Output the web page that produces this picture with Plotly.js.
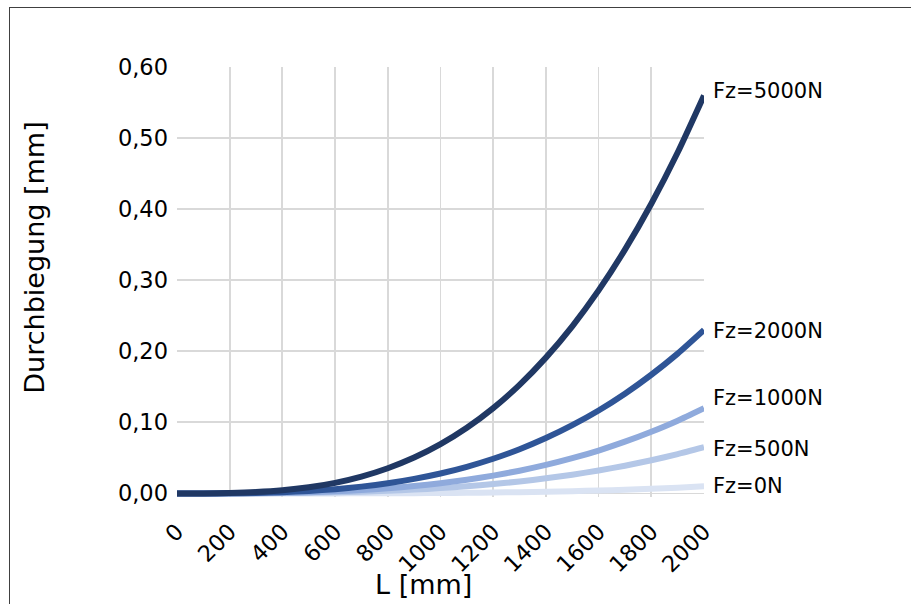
<!DOCTYPE html>
<html>
<head>
<meta charset="utf-8">
<script src="https://cdn.plot.ly/plotly-3.0.1.min.js"></script>
<style>
  html, body { margin: 0; padding: 0; background: #fff; }
  #wrap { position: relative; width: 911px; height: 604px; overflow: hidden; }
  #chart { width: 911px; height: 604px; }
  #frame { position: absolute; left: 9px; top: 7px; width: 1000px; height: 1000px;
           border-left: 1px solid #404040; border-top: 1px solid #404040; pointer-events: none; }
</style>
</head>
<body>
<div id="wrap">
  <div id="chart"></div>
  <div id="frame"></div>
</div>
<script>
// L [mm]
const lengths = [0,100,200,300,400,500,600,700,800,900,1000,1100,1200,1300,1400,1500,1600,1700,1800,1900,2000];
// Durchbiegung [mm]
const fz0    = [0,0,0,0.0001,0.0001,0.0001,0.0001,0.0002,0.0004,0.0004,0.0006,0.0009,0.0013,0.0018,0.0024,0.0032,0.0041,0.0052,0.0066,0.0081,0.010];
const fz500  = [0,0,0.0001,0.0002,0.0005,0.0009,0.0016,0.0025,0.0038,0.0054,0.0075,0.0101,0.0132,0.0169,0.0213,0.0264,0.0323,0.0390,0.0467,0.0553,0.065];
const fz1000 = [0,0,0.0001,0.0004,0.0009,0.0018,0.0031,0.0049,0.0073,0.0104,0.0144,0.0192,0.0251,0.0320,0.0401,0.0496,0.0604,0.0728,0.0868,0.1024,0.120];
const fz2000 = [0,0,0.0002,0.0007,0.0018,0.0035,0.0060,0.0096,0.0143,0.0205,0.0281,0.0375,0.0488,0.0622,0.0779,0.0960,0.1167,0.1403,0.1670,0.1967,0.230];
const fz5000 = [0,0.0001,0.0006,0.0019,0.0044,0.0086,0.0149,0.0237,0.0355,0.0505,0.0694,0.0924,0.1201,0.1528,0.1911,0.2352,0.2857,0.3430,0.4076,0.4797,0.560];
const seriesNames = ["Fz=0N","Fz=500N","Fz=1000N","Fz=2000N","Fz=5000N"];
const labelY = [0.010, 0.0625, 0.134, 0.229, 0.566];
const xTicks = [0,200,400,600,800,1000,1200,1400,1600,1800,2000];
const yTicks = [0,0.1,0.2,0.3,0.4,0.5,0.6];
const yTickText = ["0,00","0,10","0,20","0,30","0,40","0,50","0,60"];

const colors = ["#dae3f3","#b4c7e7","#8faadc","#2f5597","#203864"];
const allSeries = [fz0, fz500, fz1000, fz2000, fz5000];
const FONT = "DejaVu Sans, sans-serif";

const traces = allSeries.map((s, i) => ({
  x: lengths, y: s, name: seriesNames[i], type: "scatter", mode: "lines",
  line: {color: colors[i], width: 6, shape: "spline", smoothing: 0.6},
  hoverinfo: "x+y+name"
}));

const annotations = seriesNames.map((n, i) => ({
  x: 1, xref: "paper", y: labelY[i], yref: "y", xanchor: "left", yanchor: "middle",
  xshift: 7, text: n, showarrow: false, font: {family: FONT, size: 21, color: "#000"}
}));
annotations.push({
  x: -0.271, xref: "paper", y: 0.557, yref: "paper", text: "Durchbiegung [mm]", textangle: -90,
  showarrow: false, xanchor: "center", yanchor: "middle", font: {family: FONT, size: 27, color: "#000"}
});
annotations.push({
  x: 0.468, xref: "paper", y: -0.204, yref: "paper", text: "L [mm]",
  showarrow: false, xanchor: "center", yanchor: "middle", font: {family: FONT, size: 27, color: "#000"}
});

const layout = {
  width: 911, height: 604,
  margin: {l: 177, r: 207, t: 67, b: 107, pad: 0},
  paper_bgcolor: "#fff", plot_bgcolor: "#fff",
  showlegend: false,
  xaxis: {
    range: [0, 2000], tickvals: xTicks, ticktext: xTicks.map(String), tickangle: -45,
    showgrid: true, gridcolor: "#d9d9d9", gridwidth: 1.8, zeroline: false, showline: false,
    ticks: "", tickfont: {family: FONT, size: 22.5, color: "#000"}, ticklabelstandoff: 16
  },
  yaxis: {
    range: [-0.005, 0.6], tickvals: yTicks, ticktext: yTickText,
    showgrid: true, gridcolor: "#d9d9d9", gridwidth: 1.8, zeroline: false, showline: false,
    ticks: "", tickfont: {family: FONT, size: 22.5, color: "#000"}, ticklabelstandoff: 8
  },
  annotations: annotations
};

Plotly.newPlot("chart", traces, layout, {displayModeBar: false, staticPlot: true});
</script>
</body>
</html>
